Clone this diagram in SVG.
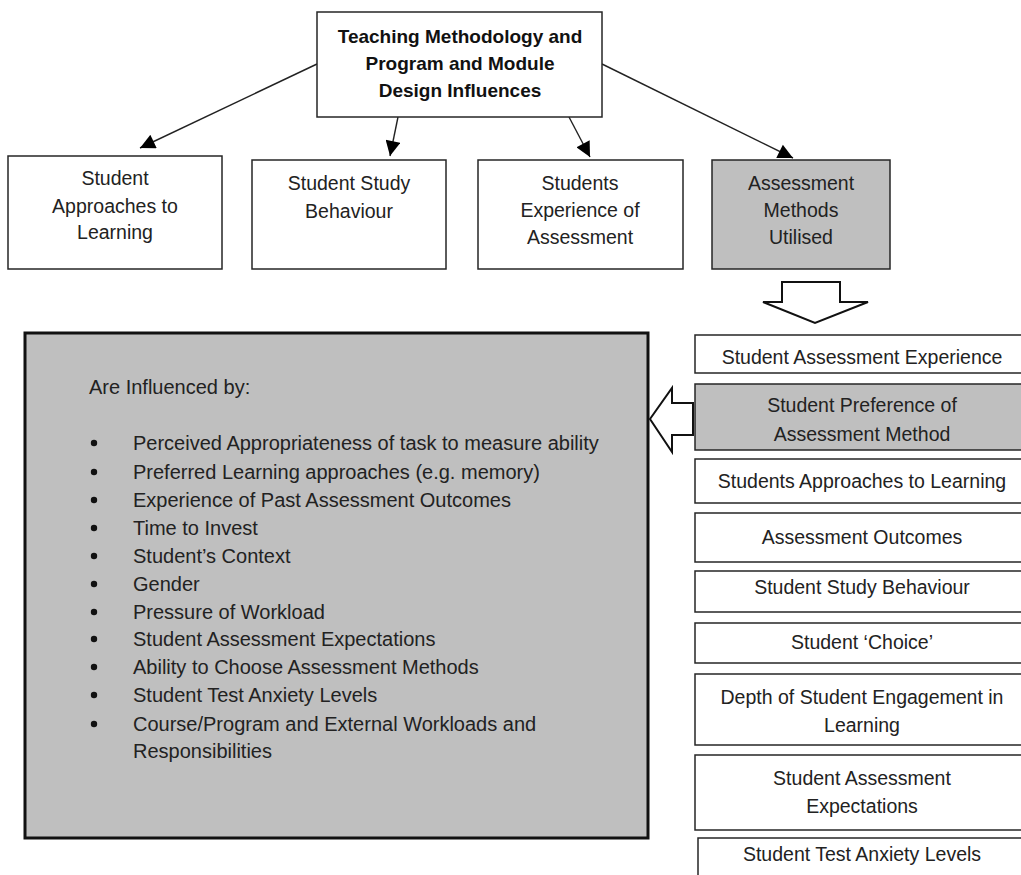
<svg xmlns="http://www.w3.org/2000/svg" width="1021" height="875" viewBox="0 0 1021 875">
<style>
  .box { fill: #ffffff; stroke: #262626; stroke-width: 1.5; }
  .gray { fill: #bfbfbf; stroke: #262626; stroke-width: 1.5; }
  .big { fill: #bfbfbf; stroke: #111111; stroke-width: 3; }
  .t { font-family: "Liberation Sans", Arial, sans-serif; font-size: 19.5px; fill: #222222; text-anchor: middle; }
  .tb { font-family: "Liberation Sans", Arial, sans-serif; font-size: 19px; font-weight: bold; fill: #111111; text-anchor: middle; }
  .li { font-family: "Liberation Sans", Arial, sans-serif; font-size: 20px; fill: #222222; }
  .conn { stroke: #222222; stroke-width: 1.4; fill: none; }
  .block { fill: #ffffff; stroke: #111111; stroke-width: 2; stroke-linejoin: miter; }
</style>
<defs>
  <marker id="ah" viewBox="0 0 10 10" refX="10" refY="5" markerWidth="16" markerHeight="15" markerUnits="userSpaceOnUse" orient="auto">
    <path d="M0,0 L10,5 L0,10 z" fill="#000000"/>
  </marker>
</defs>
<rect width="1021" height="875" fill="#ffffff"/>

<g id="connectors">
  <line class="conn" x1="317" y1="64" x2="140" y2="148" marker-end="url(#ah)"/>
  <line class="conn" x1="398" y1="117" x2="390" y2="156" marker-end="url(#ah)"/>
  <line class="conn" x1="569" y1="117" x2="590" y2="157" marker-end="url(#ah)"/>
  <line class="conn" x1="602" y1="64" x2="793" y2="158" marker-end="url(#ah)"/>
  <polygon class="block" points="782,282 840,282 840,302 868,302 815,323 763,302 782,302"/>
  <polygon class="block" points="650,419 672,388 672,403 693,403 693,435 672,435 672,452"/>
</g>

<g id="top">
  <rect class="box" x="317" y="12" width="285" height="105"/>
  <text class="tb" x="460" y="43">Teaching Methodology and</text>
  <text class="tb" x="460" y="70">Program and Module</text>
  <text class="tb" x="460" y="97">Design Influences</text>
</g>

<g id="n-approaches">
  <rect class="box" x="8" y="156" width="214" height="113"/>
  <text class="t" x="115" y="185">Student</text>
  <text class="t" x="115" y="213">Approaches to</text>
  <text class="t" x="115" y="239">Learning</text>
</g>
<g id="n-study">
  <rect class="box" x="252" y="160" width="194" height="109"/>
  <text class="t" x="349" y="190">Student Study</text>
  <text class="t" x="349" y="218">Behaviour</text>
</g>
<g id="n-experience">
  <rect class="box" x="478" y="160" width="205" height="109"/>
  <text class="t" x="580" y="190">Students</text>
  <text class="t" x="580" y="217">Experience of</text>
  <text class="t" x="580" y="244">Assessment</text>
</g>
<g id="n-methods">
  <rect class="gray" x="712" y="160" width="178" height="109"/>
  <text class="t" x="801" y="190">Assessment</text>
  <text class="t" x="801" y="217">Methods</text>
  <text class="t" x="801" y="244">Utilised</text>
</g>

<g id="influenced">
  <rect class="big" x="25" y="333" width="623" height="505"/>
  <text class="li" x="89" y="394">Are Influenced by:</text>
  <g fill="#111111">
    <circle cx="94" cy="443" r="3.2"/>
    <circle cx="94" cy="472" r="3.2"/>
    <circle cx="94" cy="500" r="3.2"/>
    <circle cx="94" cy="528" r="3.2"/>
    <circle cx="94" cy="556" r="3.2"/>
    <circle cx="94" cy="584" r="3.2"/>
    <circle cx="94" cy="612" r="3.2"/>
    <circle cx="94" cy="639" r="3.2"/>
    <circle cx="94" cy="667" r="3.2"/>
    <circle cx="94" cy="695" r="3.2"/>
    <circle cx="94" cy="724" r="3.2"/>
  </g>
  <text class="li" x="133" y="450">Perceived Appropriateness of task to measure ability</text>
  <text class="li" x="133" y="479">Preferred Learning approaches (e.g. memory)</text>
  <text class="li" x="133" y="507">Experience of Past Assessment Outcomes</text>
  <text class="li" x="133" y="535">Time to Invest</text>
  <text class="li" x="133" y="563">Student’s Context</text>
  <text class="li" x="133" y="591">Gender</text>
  <text class="li" x="133" y="619">Pressure of Workload</text>
  <text class="li" x="133" y="646">Student Assessment Expectations</text>
  <text class="li" x="133" y="674">Ability to Choose Assessment Methods</text>
  <text class="li" x="133" y="702">Student Test Anxiety Levels</text>
  <text class="li" x="133" y="731">Course/Program and External Workloads and</text>
  <text class="li" x="133" y="758">Responsibilities</text>
</g>

<g id="r1">
  <rect class="box" x="695" y="335" width="340" height="38"/>
  <text class="t" x="862" y="364">Student Assessment Experience</text>
</g>
<g id="r2">
  <rect class="gray" x="695" y="384" width="340" height="66"/>
  <text class="t" x="862" y="412">Student Preference of</text>
  <text class="t" x="862" y="441">Assessment Method</text>
</g>
<g id="r3">
  <rect class="box" x="695" y="459" width="340" height="44"/>
  <text class="t" x="862" y="488">Students Approaches to Learning</text>
</g>
<g id="r4">
  <rect class="box" x="695" y="513" width="340" height="49"/>
  <text class="t" x="862" y="544">Assessment Outcomes</text>
</g>
<g id="r5">
  <rect class="box" x="695" y="571" width="340" height="41"/>
  <text class="t" x="862" y="594">Student Study Behaviour</text>
</g>
<g id="r6">
  <rect class="box" x="695" y="623" width="340" height="40"/>
  <text class="t" x="862" y="649">Student ‘Choice’</text>
</g>
<g id="r7">
  <rect class="box" x="695" y="674" width="340" height="71"/>
  <text class="t" x="862" y="704">Depth of Student Engagement in</text>
  <text class="t" x="862" y="732">Learning</text>
</g>
<g id="r8">
  <rect class="box" x="695" y="755" width="340" height="75"/>
  <text class="t" x="862" y="785">Student Assessment</text>
  <text class="t" x="862" y="813">Expectations</text>
</g>
<g id="r9">
  <rect class="box" x="698" y="838" width="340" height="60"/>
  <text class="t" x="862" y="861">Student Test Anxiety Levels</text>
</g>
</svg>
